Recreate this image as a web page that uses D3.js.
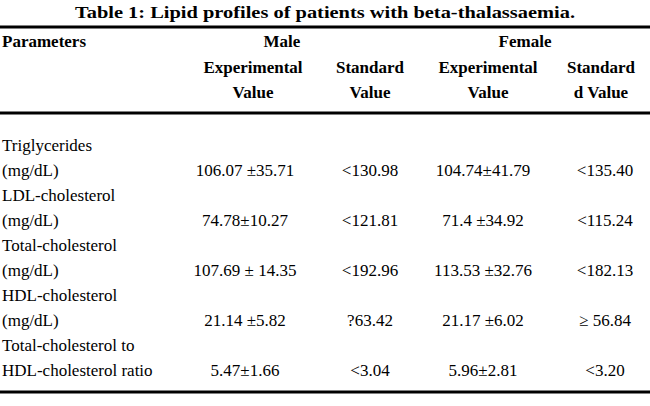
<!DOCTYPE html>
<html><head><meta charset="utf-8">
<script src="https://cdn.jsdelivr.net/npm/d3@7"></script>
<style>body{margin:0;background:#fff}</style>
</head><body>
<script>
const title = "Table 1: Lipid profiles of patients with beta-thalassaemia."
const groups = ["Male", "Female"]
const subHeads = [["Experimental","Value"],["Standard","Value"],["Experimental","Value"],["Standard","d Value"]]
const params = [["Triglycerides","(mg/dL)"],["LDL-cholesterol","(mg/dL)"],["Total-cholesterol","(mg/dL)"],["HDL-cholesterol","(mg/dL)"],["Total-cholesterol to","HDL-cholesterol ratio"]]
const maleExp = ["106.07 ±35.71","74.78±10.27","107.69 ± 14.35","21.14 ±5.82","5.47±1.66"]
const maleStd = ["<130.98","<121.81","<192.96","?63.42","<3.04"]
const femaleExp = ["104.74±41.79","71.4 ±34.92","113.53 ±32.76","21.17 ±6.02","5.96±2.81"]
const femaleStd = ["<135.40","<115.24","<182.13","≥ 56.84","<3.20"]

const width = 650, height = 406
const svg = d3.select("body").append("svg").attr("width", width).attr("height", height)
  .attr("font-family", "'Liberation Serif', 'Times New Roman', Tinos, 'DejaVu Serif', serif")

const colX = d3.scaleOrdinal().domain([0,1,2,3]).range([245, 370, 483, 605])
const headX = d3.scaleOrdinal().domain([0,1,2,3]).range([253, 370, 488, 601])
const rowY = d3.scaleLinear().domain([0, 1]).range([151, 176])

svg.append("text").text(title).attr("x", width/2).attr("y", 18)
  .attr("text-anchor","middle").attr("font-weight","bold").attr("font-size",17)
  .attr("textLength", 500).attr("lengthAdjust","spacingAndGlyphs")

// rules
;[27, 113, 392].forEach(y => {
  svg.append("line").attr("x1",0).attr("x2",width).attr("y1",y).attr("y2",y)
    .attr("stroke","#000").attr("stroke-width",3)
})

const head = svg.append("g").attr("font-weight","bold").attr("font-size",17)
head.append("text").text("Parameters").attr("x",2).attr("y",47)
groups.forEach((g,i) => {
  head.append("text").text(g).attr("x", i ? 525 : 282).attr("y",47).attr("text-anchor","middle")
})
subHeads.forEach((h,i) => {
  h.forEach((t,j) => {
    head.append("text").text(t).attr("x", headX(i)).attr("y", 73 + j*25).attr("text-anchor","middle")
  })
})

const body = svg.append("g").attr("font-size",17)
const cols = [maleExp, maleStd, femaleExp, femaleStd]
params.forEach((p,i) => {
  p.forEach((t,j) => {
    body.append("text").text(t).attr("x",2).attr("y", rowY(i*2+j))
  })
  cols.forEach((c,k) => {
    body.append("text").text(c[i]).attr("x", colX(k)).attr("y", rowY(i*2+1)).attr("text-anchor","middle")
  })
})
</script>
</body></html>
